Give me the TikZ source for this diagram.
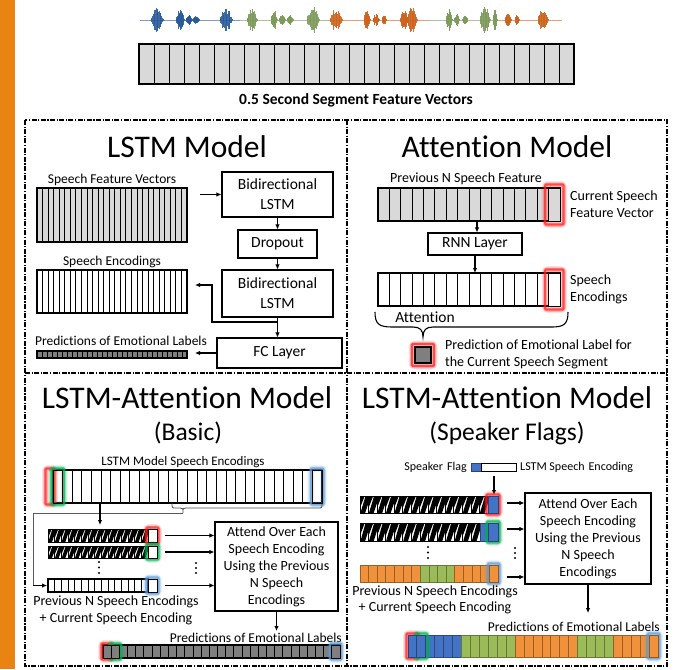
\documentclass[tikz,border=0pt]{standalone}
\usepackage{fontspec}
\setmainfont[Ligatures=NoCommon]{Carlito}
\usetikzlibrary{arrows.meta,calc}
\definecolor{orangebar}{RGB}{233,131,18}
\definecolor{cellgray}{RGB}{217,217,217}
\definecolor{darkcell}{RGB}{127,127,127}
\definecolor{spblue}{RGB}{68,114,196}
\definecolor{sporange}{RGB}{240,145,60}
\definecolor{spgreen}{RGB}{155,187,89}
\definecolor{wblue}{RGB}{40,90,155}
\definecolor{wgreen}{RGB}{125,155,90}
\definecolor{worange}{RGB}{205,100,30}
\definecolor{glowred}{RGB}{255,30,30}
\definecolor{glowgreen}{RGB}{0,176,80}
\definecolor{glowblue}{RGB}{91,155,213}
% x0 y0 x1 y1 n fill
\newcommand{\cellrow}[6]{%
  \pgfmathsetmacro\cw{(#3-#1)/#5}%
  \foreach \k in {1,...,#5}{%
    \draw[fill=#6, line width=0.8] ({#1+(\k-1)*\cw},#2) rectangle ({#1+\k*\cw},#4);
  }%
  \draw[line width=1.1] (#1,#2) rectangle (#3,#4);
}
% x0 y0 x1 y1 color pad
\newcommand{\glowbox}[6]{%
  \draw[#5, line width=7, opacity=.12, rounded corners=3] ({#1-#6},{#2-#6}) rectangle ({#3+#6},{#4+#6});
  \draw[#5, line width=4.5, opacity=.25, rounded corners=2] ({#1-#6},{#2-#6}) rectangle ({#3+#6},{#4+#6});
  \draw[#5, line width=2.2, opacity=.7, rounded corners=1] ({#1-#6},{#2-#6}) rectangle ({#3+#6},{#4+#6});
}
% x0 y0 y1 w n
\newcommand{\hatchrow}[5]{%
  \foreach \k in {1,...,#5}{%
    \pgfmathsetmacro\xa{#1+(\k-1)*#4}%
    \pgfmathsetmacro\xb{\xa+#4}%
    \pgfmathsetmacro\hh{#3-#2}%
    \fill[white] (\xa,#2) rectangle (\xb,#3);
    \fill[black] (\xa,#2) -- ({\xa+0.55*#4},#2) -- (\xa,{#2+0.7*\hh}) -- cycle;
    \fill[black] ({\xa+0.05*#4},#3) -- ({\xa+0.6*#4},#3) -- (\xb,{#2+0.4*\hh}) -- (\xb,#2) -- ({\xb-0.35*#4},#2) -- cycle;
    \draw[line width=0.8] (\xa,#2) rectangle (\xb,#3);
  }%
}
% x0 y0 y1 w {colors}
\newcommand{\colorrow}[5]{%
  \foreach \cc [count=\k] in {#5}{%
    \pgfmathsetmacro\xa{#1+(\k-1)*#4}%
    \draw[fill=\cc, draw=\cc!65!black, line width=0.8] (\xa,#2) rectangle ({\xa+#4},#3);
  }%
}
% x amp hw color
\newcommand{\burst}[4]{%
  \foreach \i in {0,...,16}{%
    \pgfmathsetmacro\bt{-#3+\i*#3/8}%
    \pgfmathsetmacro\bh{#2*(1-(\bt/#3)^2)*(0.45+0.55*rnd)+0.8}%
    \draw[#4, line width=0.9, opacity=.9] ({#1+\bt},{20-\bh}) -- ({#1+\bt},{20+\bh});
  }%
}
\begin{document}
\begin{tikzpicture}[x=1pt,y=-1pt,
  box/.style={draw, line width=1.1, fill=white, align=center, inner sep=0},
  arr/.style={-{Latex[length=5pt,width=4.5pt]}, line width=1.1},
  ttl/.style={font=\fontsize{31.5}{36}\selectfont, inner sep=0},
  sub/.style={font=\fontsize{25.5}{30}\selectfont, inner sep=0},
  lab/.style={font=\fontsize{14}{17}\selectfont, align=center, inner sep=0},
  slab/.style={font=\fontsize{13.5}{16}\selectfont, inner sep=0},
  frame/.style={line width=1.1, dash pattern=on 5pt off 1.5pt on 1.2pt off 1.5pt},
  dot/.style={fill=black}]
\pgfmathsetseed{7}
\useasboundingbox (0,0) rectangle (684,669);
\fill[white] (0,0) rectangle (684,669);
\fill[orangebar] (0,0) rectangle (15,669);

% waveform
\draw[wblue!60,line width=0.7] (140,20) -- (240,20);
\draw[wgreen!60,line width=0.7] (240,20) -- (327,20);
\draw[worange!60,line width=0.7] (327,20) -- (430,20);
\draw[wgreen!60,line width=0.7] (430,20) -- (497,20);
\draw[worange!60,line width=0.7] (497,20) -- (562,20);
\burst{157}{12}{6}{wblue}\burst{180}{10}{4}{wblue}\burst{189}{4}{3}{wblue}\burst{196}{3}{3}{wblue}\burst{226}{12}{6}{wblue}
\burst{252}{12}{5}{wgreen}\burst{274}{10}{3}{wgreen}\burst{282}{5}{3}{wgreen}\burst{290}{4}{3}{wgreen}\burst{313}{14}{6}{wgreen}
\burst{336}{11}{6}{worange}\burst{367}{9}{3}{worange}\burst{376}{5}{3}{worange}\burst{384}{4}{2}{worange}\burst{404}{10}{4}{worange}\burst{412}{13}{5}{worange}
\burst{449}{11}{3}{wgreen}\burst{457}{5}{2.5}{wgreen}\burst{465}{4}{2.5}{wgreen}\burst{485}{14}{5}{wgreen}\burst{495}{10}{2}{wgreen}
\burst{508}{6}{3}{worange}\burst{517}{4}{2}{worange}\burst{543}{12}{5}{worange}

\cellrow{139}{44}{574}{84}{29}{cellgray}
\node[font=\bfseries\fontsize{15.5}{18}\selectfont, inner sep=0] (segtitle) at (356,100) {0.5 Second Segment Feature Vectors};

% frames
\draw[frame] (25,120) rectangle (667,666);
\draw[frame] (347,120) -- (347,666);
\draw[frame] (25,373) -- (667,373);

% ---------------- LSTM Model
\node[ttl] (t1) at (187,147) {LSTM Model};
\node[slab] (sfvl) at (112,180) {Speech Feature Vectors};
\cellrow{37}{188}{187}{242}{27}{cellgray}
\node[slab] (sel) at (112,262) {Speech Encodings};
\cellrow{37}{270}{187}{313}{27}{white}
\node[slab] (pell) at (121,341) {Predictions of Emotional Labels};
\cellrow{37}{351}{187}{358}{30}{darkcell}
\node[box, minimum width=111, minimum height=45, font=\fontsize{15.5}{20}\selectfont] (bl1) at (277.5,194.5) {Bidirectional\\LSTM};
\node[box, minimum width=79, minimum height=28, font=\fontsize{15.5}{20}\selectfont] (drop) at (277.5,244) {Dropout};
\node[box, minimum width=111, minimum height=47, font=\fontsize{15.5}{20}\selectfont] (bl2) at (277.5,293.5) {Bidirectional\\LSTM};
\node[box, minimum width=125, minimum height=30, font=\fontsize{15.5}{20}\selectfont] (fc) at (279.5,353) {FC Layer};
\coordinate (fvin) at (200,194.5);
\coordinate (encin) at (195,285);
\coordinate (predin) at (195,353);
\coordinate (brst) at (277.5,322);
\draw[arr] (fvin) -- (bl1.west);
\draw[arr] (bl1.south) -- (drop.north);
\draw[arr] (drop.south) -- (bl2.north);
\draw[arr] (bl2.south) -- (bl2.south |- fc.north);
\draw[arr] (brst) -- (212,322) -- (212,285) -- (encin);
\draw[arr] (fc.west) -- (predin);

% ---------------- Attention Model
\node[ttl] (t2) at (507,147) {Attention Model};
\node[lab] (pnsf) at (466,179) {Previous N Speech Feature};
\cellrow{378}{188}{560}{221}{16}{cellgray}
\glowbox{548.6}{188}{560}{221}{glowred}{3.5}
\draw[fill=cellgray, line width=1] (548.6,188) rectangle (560,221);
\node[lab, align=left, anchor=west] (csfv) at (570,204.5) {Current Speech\\Feature Vector};
\node[box, minimum width=94, minimum height=22, font=\fontsize{15.5}{20}\selectfont] (rnn) at (475,244) {RNN Layer};
\coordinate (agb) at (477,221);
\draw[arr] (agb) -- (agb |- rnn.north);
\cellrow{378}{273}{560}{306}{16}{white}
\glowbox{548.6}{273}{560}{306}{glowred}{3.5}
\draw[fill=white, line width=1] (548.6,273) rectangle (560,306);
\coordinate (aenc) at (475,273);
\draw[arr] (rnn.south) -- (aenc);
\node[lab, align=left, anchor=west] (aencl) at (570,289.5) {Speech\\Encodings};
\draw[line width=1.1] (375,312) .. controls (375,324) and (379,327) .. (392,327) -- (413,327) .. controls (420,327) and (423,330) .. (423,337) .. controls (423,330) and (426,327) .. (433,327) -- (552,327) .. controls (564,327) and (568,324) .. (568,312);
\node[font=\fontsize{15.5}{18}\selectfont, inner sep=0] (attl) at (425,317) {Attention};
\glowbox{415}{347}{431}{363}{glowred}{3}
\node[draw, fill=darkcell, line width=1.1, minimum width=16, minimum height=16, inner sep=0] (predsq) at (423,355) {};
\node[lab, align=left, anchor=west] (predl) at (445,354.5) {Prediction of Emotional Label for\\the Current Speech Segment};

% ---------------- LSTM-Attention (Basic)
\node[ttl] (t3) at (187,398) {LSTM-Attention Model};
\node[sub] (t3b) at (188,433) {(Basic)};
\node[font=\fontsize{13}{16}\selectfont, inner sep=0] (lmse) at (183,462) {LSTM Model Speech Encodings};
\cellrow{53}{470}{322}{503}{28}{white}
\glowbox{47}{470}{53}{503}{glowred}{1.5}
\glowbox{53}{470}{62.6}{503}{glowgreen}{1.5}
\glowbox{312.4}{470}{322}{503}{glowblue}{1.5}
\draw[line width=0.9] (53,470) rectangle (62.6,503);
\draw[line width=0.9] (312.4,470) rectangle (322,503);
\draw[line width=0.8, black!70] (172,503) .. controls (172,508) .. (176,508) -- (180,508) .. controls (183,508) .. (183,513) .. controls (183,508) .. (186,508) -- (318,508) .. controls (322,508) .. (322,503);
\coordinate (bt) at (183,513);
\coordinate (r3in) at (47,585.5);
\draw[black!65, line width=0.9] (bt) -- (33,513) -- (33,585.5);
\draw[arr, line width=0.9] (33,585.5) -- (r3in);
\coordinate (lbar) at (100,503);
\coordinate (r1top) at (100,525);
\draw[arr] (lbar) -- (r1top);
% rows
\hatchrow{48}{529}{542}{6.667}{15}
\glowbox{148}{529}{157}{542}{glowred}{1.5}
\draw[fill=white, line width=0.9] (148,529) rectangle (157,542);
\hatchrow{48}{546}{558}{6.667}{15}
\glowbox{148}{546}{157}{558}{glowgreen}{1.5}
\draw[fill=white, line width=0.9] (148,546) rectangle (157,558);
\fill (99,562) circle (1.2) (99,567.5) circle (1.2) (99,573) circle (1.2);
\cellrow{48}{579}{148}{592}{15}{white}
\glowbox{148}{579}{157}{592}{glowblue}{1.5}
\draw[fill=white, line width=0.9] (148,579) rectangle (157,592);
\node[box, minimum width=123, minimum height=89, font=\fontsize{14}{17}\selectfont] (att1) at (276.5,566.5) {Attend Over Each\\Speech Encoding\\Using the Previous\\N Speech\\Encodings};
\coordinate (a1) at (165,535.5);
\coordinate (a2) at (165,552);
\coordinate (a3) at (165,585.5);
\draw[arr] (a1) -- (a1 -| att1.west);
\draw[arr] (a2) -- (a2 -| att1.west);
\draw[arr] (a3) -- (a3 -| att1.west);
\fill (196,563) circle (1.2) (196,568) circle (1.2) (196,573) circle (1.2);
\coordinate (p1) at (276.5,631);
\draw[arr] (att1.south) -- (p1);
\node[lab] (pnse1) at (116,610.5) {Previous N Speech Encodings\\+ Current Speech Encoding};
\node[slab, anchor=east] (pel1) at (342,638) {Predictions of Emotional Labels};
\cellrow{103}{645}{340}{658}{29}{darkcell}
\glowbox{103}{645}{111.17}{658}{glowred}{1.5}
\glowbox{111.17}{645}{119.34}{658}{glowgreen}{1.5}
\glowbox{331.83}{645}{340}{658}{glowblue}{1.5}
\draw[fill=darkcell, line width=0.9] (103,645) rectangle (111.17,658);
\draw[fill=darkcell, line width=0.9] (111.17,645) rectangle (119.34,658);
\draw[fill=darkcell, line width=0.9] (331.83,645) rectangle (340,658);

% ---------------- LSTM-Attention (Speaker Flags)
\node[ttl] (t4) at (507,398) {LSTM-Attention Model};
\node[sub] (t4b) at (507,433) {(Speaker Flags)};
\node[font=\fontsize{12}{14}\selectfont, inner sep=0, anchor=east] (sfl) at (467,467) {Speaker\,\,Flag};
\draw[fill=spblue, draw=spblue!60!black, line width=0.8] (471,463) rectangle (481,471);
\draw[fill=white, line width=0.8] (481,463) rectangle (516,471);
\node[font=\fontsize{12}{14}\selectfont, inner sep=0, anchor=west] (lse) at (520,467) {LSTM Speech\,\,Encoding};
\coordinate (sft) at (494,476);
\coordinate (sfb) at (494,495);
\draw[arr] (sft) -- (sfb);
\hatchrow{360}{496}{513}{8.533}{15}
\glowbox{488}{496}{498}{513}{glowred}{1.5}
\draw[fill=spblue, draw=spblue!60!black, line width=0.9] (488,496) rectangle (498,513);
\hatchrow{360}{523}{541}{8.57}{14}
\draw[fill=spblue, draw=spblue!60!black, line width=0.9] (480,523) rectangle (488.5,541);
\glowbox{488.5}{523}{498}{541}{glowgreen}{1.5}
\draw[fill=spblue, draw=spblue!60!black, line width=0.9] (488.5,523) rectangle (498,541);
\fill (428,547) circle (1.2) (428,552.5) circle (1.2) (428,558) circle (1.2);
\colorrow{360}{565}{582}{8.625}{sporange,sporange,sporange,sporange,sporange,sporange,sporange,spgreen,spgreen,spgreen,spgreen,sporange,sporange,sporange,sporange}
\glowbox{489.4}{565}{498}{582}{glowblue}{1.5}
\draw[fill=sporange, draw=sporange!60!black, line width=0.9] (489.4,565) rectangle (498,582);
\node[box, minimum width=126, minimum height=91, font=\fontsize{14}{17}\selectfont] (att2) at (588,538.5) {Attend Over Each\\Speech Encoding\\Using the Previous\\N Speech\\Encodings};
\coordinate (b1) at (507,503);
\coordinate (b2) at (507,529);
\coordinate (b3) at (507,577);
\draw[arr] (b1) -- (b1 -| att2.west);
\draw[arr] (b2) -- (b2 -| att2.west);
\draw[arr] (b3) -- (b3 -| att2.west);
\fill (515,548) circle (1.2) (515,553) circle (1.2) (515,558) circle (1.2);
\coordinate (p2) at (588,613);
\draw[arr] (att2.south) -- (p2);
\node[font=\fontsize{14}{16}\selectfont, align=center, inner sep=0] (pnse2) at (435,600) {Previous N Speech Encodings\\+ Current Speech Encoding};
\node[slab, anchor=east] (pel2) at (660,627) {Predictions of Emotional Labels};
\colorrow{408}{635}{657}{8.929}{spblue,spblue,spblue,spblue,spblue,spblue,spgreen,spgreen,spgreen,spgreen,spgreen,spgreen,sporange,sporange,sporange,sporange,sporange,sporange,sporange,spgreen,spgreen,spgreen,spgreen,sporange,sporange,sporange,sporange,sporange}
\glowbox{408}{635}{416.93}{657}{glowred}{1.5}
\glowbox{416.93}{635}{425.86}{657}{glowgreen}{1.5}
\glowbox{649.07}{635}{658}{657}{glowblue}{1.5}
\draw[fill=spblue, draw=spblue!60!black, line width=0.9] (408,635) rectangle (416.93,657);
\draw[fill=spblue, draw=spblue!60!black, line width=0.9] (416.93,635) rectangle (425.86,657);
\draw[fill=sporange, draw=sporange!60!black, line width=0.9] (649.07,635) rectangle (658,657);
\end{tikzpicture}
\end{document}
